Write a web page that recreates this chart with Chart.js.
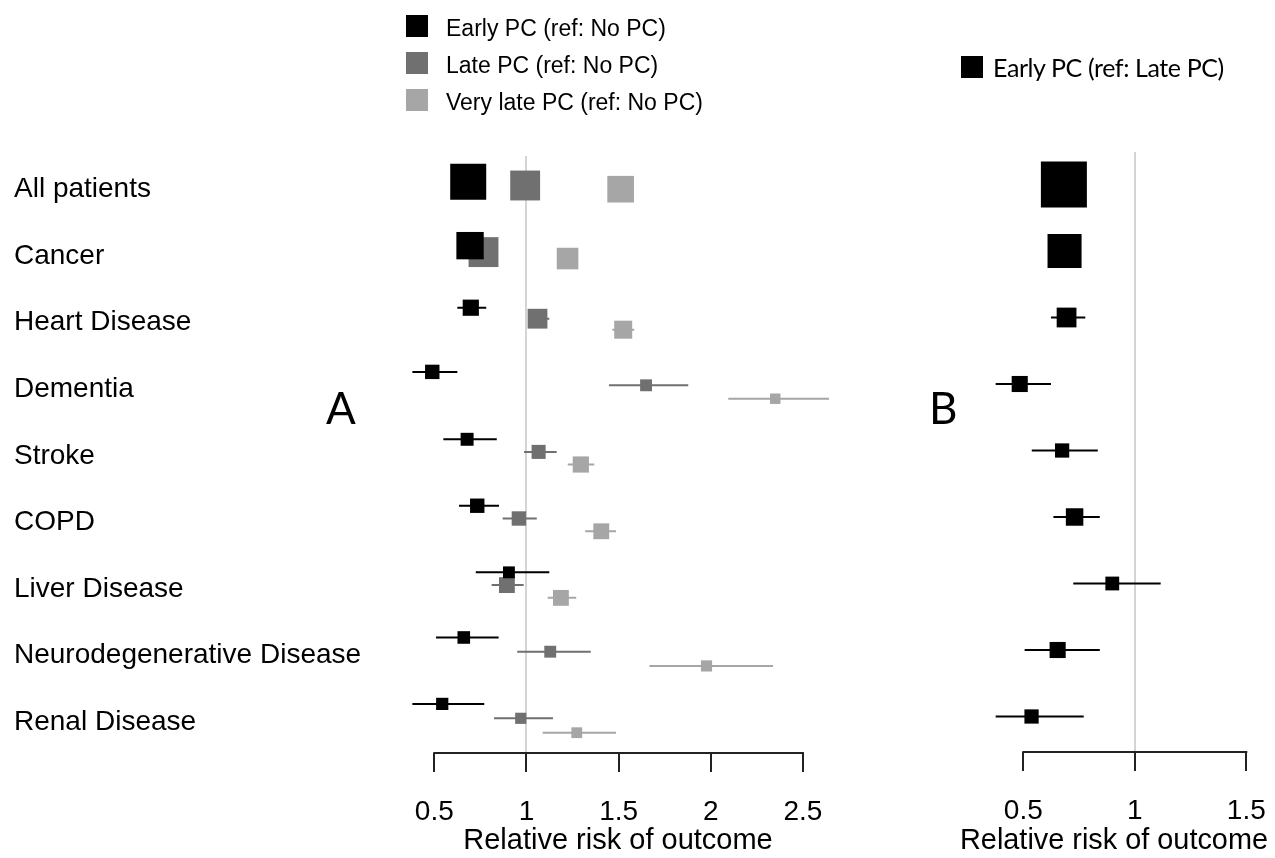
<!DOCTYPE html>
<html>
<head>
<meta charset="utf-8">
<script src="https://cdn.jsdelivr.net/npm/chart.js@4.4.1/dist/chart.umd.min.js"></script>
<style>
  html, body { margin: 0; padding: 0; background: #fff; }
  #wrap { position: relative; width: 1275px; height: 858px; overflow: hidden; font-family: "Liberation Sans", Arial, sans-serif; color: #000; }
  canvas { position: absolute; top: 0; }
  .sw { position: absolute; display: block; }
  .key { position: absolute; line-height: 1; white-space: nowrap; font-family: "Liberation Sans", Arial, sans-serif; }
  .panel { position: absolute; font-family: Lato, sans-serif; font-size: 44px; line-height: 1; }
</style>
</head>
<body>
<div id="wrap">
  <canvas id="chartA" width="900" height="858" style="left:0"></canvas>
  <canvas id="chartB" width="375" height="858" style="left:900px"></canvas>
  <div id="legendA"></div>
  <div id="legendB"></div>
  <div class="panel" style="left:326px; top:385px">A</div>
  <div class="panel" style="left:929px; top:385px">B</div>
</div>
<script>
// rijen (categorieen) en assen
const rowLabels = ['All patients', 'Cancer', 'Heart Disease', 'Dementia', 'Stroke', 'COPD',
    'Liver Disease', 'Neurodegenerative Disease', 'Renal Disease'];
const ticksA = [0.5, 1, 1.5, 2, 2.5];
const ticksB = [0.5, 1, 1.5];
const seriesA = ['Early PC (ref: No PC)', 'Late PC (ref: No PC)', 'Very late PC (ref: No PC)'];
const seriesB = ['Early PC (ref: Late PC)'];

// Panel A - Early PC (ref: No PC)
const earlyRR = [0.684, 0.694, 0.698, 0.489, 0.678, 0.733, 0.905, 0.660, 0.543];
const earlyLo = [0.670, 0.675, 0.625, 0.381, 0.549, 0.634, 0.725, 0.509, 0.381];
const earlyHi = [0.700, 0.715, 0.782, 0.625, 0.839, 0.851, 1.124, 0.849, 0.771];
const earlyWt = [1.00, 0.76, 0.45, 0.40, 0.36, 0.40, 0.33, 0.35, 0.34];

// Panel A - Late PC (ref: No PC)
const lateRR = [0.993, 0.767, 1.060, 1.649, 1.066, 0.959, 0.894, 1.129, 0.969];
const lateLo = [0.980, 0.750, 1.010, 1.448, 0.987, 0.871, 0.811, 0.950, 0.824];
const lateHi = [1.010, 0.790, 1.124, 1.878, 1.164, 1.056, 0.985, 1.349, 1.144];
const lateWt = [0.83, 0.83, 0.55, 0.33, 0.39, 0.40, 0.44, 0.33, 0.31];

// Panel A - Very late PC (ref: No PC)
const vlateRR = [1.511, 1.223, 1.525, 2.350, 1.295, 1.406, 1.187, 1.977, 1.273];
const vlateLo = [1.490, 1.200, 1.466, 2.095, 1.224, 1.319, 1.115, 1.667, 1.088];
const vlateHi = [1.530, 1.245, 1.585, 2.642, 1.368, 1.486, 1.270, 2.338, 1.486];
const vlateWt = [0.74, 0.60, 0.50, 0.29, 0.45, 0.44, 0.44, 0.31, 0.30];

// Panel B - Early PC (ref: Late PC)
const bRR = [0.682, 0.685, 0.694, 0.484, 0.674, 0.730, 0.899, 0.654, 0.537];
const bLo = [0.660, 0.670, 0.624, 0.376, 0.538, 0.635, 0.724, 0.506, 0.376];
const bHi = [0.700, 0.700, 0.778, 0.624, 0.834, 0.843, 1.116, 0.843, 0.771];
const bWt = [1.00, 0.74, 0.43, 0.35, 0.31, 0.38, 0.30, 0.35, 0.31];

const colors = ['#000000', '#707070', '#a6a6a6'];
const FONT = '"Liberation Sans", Arial, sans-serif';

Chart.defaults.font.family = FONT;
Chart.defaults.color = '#000';

// lijn op RR = 1 en as in R-stijl (alleen tussen eerste en laatste tick)
const rAxis = {
    id: 'rAxis',
    beforeDatasetsDraw(chart) {
        const { ctx, chartArea, scales: { x } } = chart;
        const px = Math.round(x.getPixelForValue(1));
        ctx.save();
        ctx.strokeStyle = '#d4d4d4';
        ctx.lineWidth = 2;
        ctx.beginPath();
        ctx.moveTo(px, chartArea.top);
        ctx.lineTo(px, chartArea.bottom);
        ctx.stroke();
        ctx.restore();
    },
    afterDraw(chart) {
        const { ctx, chartArea, scales: { x } } = chart;
        const t = x.ticks;
        ctx.save();
        ctx.strokeStyle = '#222';
        ctx.lineWidth = 2;
        ctx.beginPath();
        ctx.moveTo(x.getPixelForValue(t[0].value) - 1, chartArea.bottom);
        ctx.lineTo(x.getPixelForValue(t[t.length - 1].value) + 1, chartArea.bottom);
        ctx.stroke();
        ctx.restore();
    }
};

function whisker(lo, hi, ys, color, order) {
    const pts = [];
    lo.forEach((l, i) => { pts.push({ x: l, y: ys[i] }, { x: hi[i], y: ys[i] }, { x: null, y: null }); });
    return { type: 'line', data: pts, borderColor: color, borderWidth: 2, pointRadius: 0,
        spanGaps: false, tension: 0, order: order };
}

function boxes(rr, ys, wt, boxPx, color, order) {
    const r = wt.map(w => w * boxPx / Math.SQRT2);
    return { type: 'scatter', data: rr.map((v, i) => ({ x: v, y: ys[i] })), pointStyle: 'rect',
        pointRadius: r, pointHoverRadius: r, backgroundColor: color, borderWidth: 0, order: order };
}

// afstand tussen de sub-regels, kleiner als de blokjes groot zijn
function subGap(maxBox, rowPx) {
    return Math.min(14.5, 14.5 - 0.45 * (maxBox - 12)) / rowPx;
}

function axisOpts(ticks, min, max, bottomH, tickPad) {
    return {
        type: 'linear', min: min, max: max,
        afterBuildTicks: s => { s.ticks = ticks.map(v => ({ value: v })); },
        grid: { drawOnChartArea: false, drawTicks: true, tickLength: 19, color: '#222', lineWidth: 2 },
        border: { display: false },
        ticks: { font: { size: 28 }, color: '#000', padding: tickPad, maxRotation: 0, autoSkip: false,
            callback: v => String(v) },
        title: { display: true, text: 'Relative risk of outcome', font: { size: 29 }, color: '#000',
            padding: { top: 0, bottom: 0 } },
        afterFit: s => { s.height = bottomH; s.paddingLeft = 0; s.paddingRight = 0; }
    };
}

function initPanelA() {
    const boxPx = 36, rowPx = 66.6, row0 = 185.5, top = 156, bottom = 753;
    const left = 390, right = 846;
    const pxPerUnit = 184.3, px05 = 434.3;
    const xMin = 0.5 - (px05 - left) / pxPerUnit;
    const xMax = 2.5 + (right - (px05 + 2 * pxPerUnit)) / pxPerUnit;
    const yMin = -(row0 - top) / rowPx;
    const yMax = yMin + (bottom - top) / rowPx;

    const yE = [], yL = [], yV = [];
    rowLabels.forEach((_, i) => {
        const g = subGap(Math.max(earlyWt[i], lateWt[i], vlateWt[i]) * boxPx, rowPx);
        yE.push(i - g); yL.push(i); yV.push(i + g);
    });

    new Chart(document.getElementById('chartA'), {
        type: 'scatter',
        data: {
            datasets: [
                whisker(vlateLo, vlateHi, yV, colors[2], 6),
                whisker(lateLo, lateHi, yL, colors[1], 5),
                whisker(earlyLo, earlyHi, yE, colors[0], 4),
                boxes(vlateRR, yV, vlateWt, boxPx, colors[2], 3),
                boxes(lateRR, yL, lateWt, boxPx, colors[1], 2),
                boxes(earlyRR, yE, earlyWt, boxPx, colors[0], 1)
            ]
        },
        options: {
            responsive: false, animation: false, events: [],
            layout: { autoPadding: false, padding: { left: 14, right: 900 - right, top: top, bottom: 0 } },
            plugins: { legend: { display: false }, tooltip: { enabled: false } },
            scales: {
                x: axisOpts(ticksA, xMin, xMax, 858 - bottom, 23),
                y: {
                    type: 'linear', reverse: true, min: yMin, max: yMax,
                    afterBuildTicks: s => { s.ticks = rowLabels.map((_, i) => ({ value: i })); },
                    grid: { display: false, drawTicks: false }, border: { display: false },
                    ticks: { callback: v => rowLabels[v], crossAlign: 'far', font: { size: 28 }, color: '#000',
                        labelOffset: 4, padding: 0, autoSkip: false },
                    afterFit: s => { s.width = left - 14; }
                }
            }
        },
        plugins: [rAxis]
    });
}

function initPanelB() {
    const boxPx = 46, rowPx = 66.5, row0 = 184.5, top = 152, bottom = 752;
    const left = 60, right = 368; // in canvas B
    const pxPerUnit = 223, px05 = 1023.3 - 900;
    const xMin = 0.5 - (px05 - left) / pxPerUnit;
    const xMax = 1.5 + (right - (px05 + pxPerUnit)) / pxPerUnit;
    const yMin = -(row0 - top) / rowPx;
    const yMax = yMin + (bottom - top) / rowPx;
    const yB = rowLabels.map((_, i) => i);

    new Chart(document.getElementById('chartB'), {
        type: 'scatter',
        data: {
            datasets: [
                whisker(bLo, bHi, yB, colors[0], 2),
                boxes(bRR, yB, bWt, boxPx, colors[0], 1)
            ]
        },
        options: {
            responsive: false, animation: false, events: [],
            layout: { autoPadding: false, padding: { left: left, right: 375 - right, top: top, bottom: 0 } },
            plugins: { legend: { display: false }, tooltip: { enabled: false } },
            scales: {
                x: axisOpts(ticksB, xMin, xMax, 858 - bottom, 23),
                y: { type: 'linear', reverse: true, min: yMin, max: yMax, display: false }
            }
        },
        plugins: [rAxis]
    });
}

function initLegends() {
    const la = document.getElementById('legendA');
    seriesA.forEach((name, i) => {
        const t = 15 + i * 37;
        la.insertAdjacentHTML('beforeend',
            `<i class="sw" style="left:406px;top:${t}px;width:22px;height:22px;background:${colors[i]}"></i>` +
            `<span class="key" style="left:446px;top:${t + 2}px;font-size:23px">${name}</span>`);
    });
    const lb = document.getElementById('legendB');
    seriesB.forEach((name, i) => {
        lb.insertAdjacentHTML('beforeend',
            `<i class="sw" style="left:961px;top:56px;width:22px;height:22px;background:${colors[i]}"></i>` +
            `<span class="key" style="left:993px;top:54.5px;font-size:25px;letter-spacing:-0.4px;font-family:Lato,sans-serif">${name}</span>`);
    });
}

document.addEventListener('DOMContentLoaded', function () {
    initPanelA();
    initPanelB();
    initLegends();
});
</script>
</body>
</html>
